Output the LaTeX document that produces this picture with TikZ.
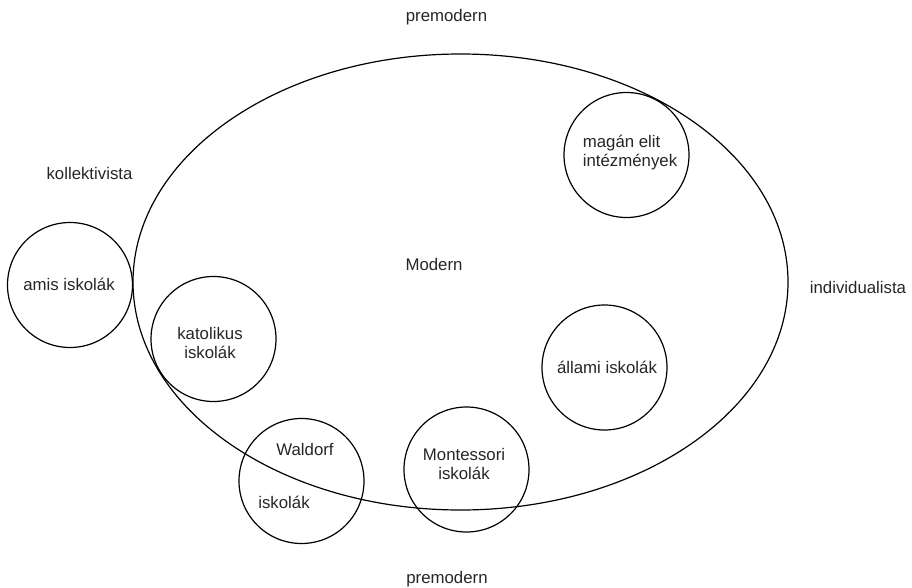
\documentclass[tikz,border=0pt]{standalone}
\usepackage{fontspec}
\setmainfont{Liberation Sans}
\begin{document}
\begin{tikzpicture}[x=1pt,y=-1pt,
  lbl/.style={font=\fontsize{16.8}{19.5}\selectfont, text=black!85, inner sep=0pt, align=center},
  circ/.style={draw, circle, line width=1.2pt, minimum size=125pt, inner sep=0pt},
  shape line/.style={line width=1.2pt}]
\useasboundingbox (0,0) rectangle (912,588);
\draw[shape line] (460.5,282) ellipse [x radius=327.5, y radius=228];
\node[circ] (magan) at (626.5,155) {};
\node[circ] (amis) at (70,285) {};
\node[circ] (kat) at (213.5,339) {};
\node[circ] (allami) at (604.5,367.5) {};
\node[circ] (wald) at (301.5,481) {};
\node[circ] (mont) at (466.5,469.5) {};
\node[lbl, align=left] (tmagan) at (630,152.5) {magán elit\\intézmények};
\node[lbl] (tamis) at (69,284) {amis iskolák};
\node[lbl] (tkat) at (210,343) {katolikus\\iskolák};
\node[lbl] (tallami) at (607,367.5) {állami iskolák};
\node[lbl] (twald1) at (305,449) {Waldorf};
\node[lbl] (twald2) at (284,502) {iskolák};
\node[lbl] (tmont) at (464,464) {Montessori\\iskolák};
\node[lbl] (modern) at (434,264) {Modern};
\node[lbl] (pretop) at (446.5,17) {premodern};
\node[lbl] (prebot) at (447,579) {premodern};
\node[lbl] (koll) at (89.5,173) {kollektivista};
\node[lbl] (indiv) at (858,287) {individualista};
\end{tikzpicture}
\end{document}
